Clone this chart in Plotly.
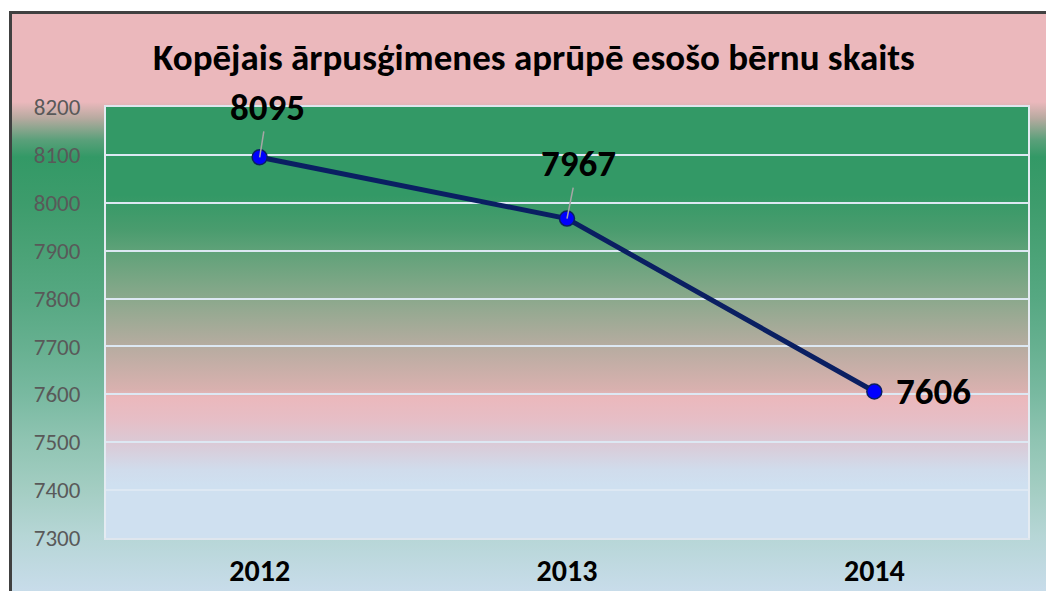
import base64
import plotly.graph_objects as go

# ---- data ----
years = ["2012", "2013", "2014"]
counts = [8095, 7967, 7606]
title_text = "Kopējais ārpusģimenes aprūpē esošo bērnu skaits"
y_min, y_max, y_step = 7300, 8200, 100

# ---- geometry / style ----
W, H = 1046, 591
L, R, T, B = 106, 18, 107, 53
PW, PH = W - L - R, H - T - B
FONT = "Carlito, Calibri, Lato, sans-serif"


def stops(lst):
    return "".join(f'<stop offset="{o}" stop-color="{c}"/>' for o, c in lst)


outer_y0, outer_h = 12, H - 12
outer = [(y, c) for y, c in [
    (12, "#ebb8bc"), (102, "#ebb8bc"), (118, "#b8aaa0"), (140, "#5aa07a"),
    (157, "#339966"), (203, "#3d9c6c"), (250, "#4aa276"), (298, "#56a882"),
    (346, "#66b090"), (393, "#78b9a0"), (440, "#8fc4b2"), (488, "#a3cdc2"),
    (536, "#b6d6d6"), (591, "#c8dcea")]]
outer = [(round((y - outer_y0) / outer_h, 4), c) for y, c in outer]

inner = [(y, c) for y, c in [
    (107, "#339966"), (195, "#339966"), (230, "#4a9c6e"), (252, "#60a279"),
    (296, "#88a88b"), (348, "#b8aca1"), (390, "#d9b1af"), (397, "#ebb8bc"),
    (420, "#e6bec6"), (442, "#dbc9d5"), (470, "#d0dcec"), (485, "#cfe0f0"),
    (538, "#cfe0f0")]]
inner = [(round((y - T) / PH, 4), c) for y, c in inner]

svg = f'''<svg xmlns="http://www.w3.org/2000/svg" width="{W}" height="{H}" viewBox="0 0 {W} {H}" preserveAspectRatio="none">
<defs>
<linearGradient id="o" x1="0" y1="0" x2="0" y2="1">{stops(outer)}</linearGradient>
<linearGradient id="p" x1="0" y1="0" x2="0" y2="1">{stops(inner)}</linearGradient>
</defs>
<rect x="0" y="0" width="{W}" height="{H}" fill="#ffffff"/>
<rect x="10" y="{outer_y0}" width="{W - 10}" height="{outer_h}" fill="url(#o)"/>
<rect x="{L}" y="{T}" width="{PW}" height="{PH}" fill="url(#p)"/>
<path d="M10.5 {H} V12.5 H{W}" stroke="#404040" stroke-width="3" fill="none"/>
</svg>'''
bg_uri = "data:image/svg+xml;base64," + base64.b64encode(svg.encode("utf-8")).decode("ascii")

fig = go.Figure()
fig.add_trace(go.Scatter(
    x=years, y=counts, mode="lines+markers",
    line=dict(color="#0a1f62", width=5),
    marker=dict(size=15, color="#0000ff", line=dict(color="#0a1f62", width=1.5)),
    hoverinfo="skip", showlegend=False,
))

# data labels (x given as category index)
label_offsets = [(8, -50, True), (11, -55, True), (59, 0, False)]
for i, (v, (dx, dy, arrow)) in enumerate(zip(counts, label_offsets)):
    common = dict(x=i, y=v, xref="x", yref="y", text=f"<b>{v}</b>",
                  font=dict(family=FONT, size=37, color="#000000"))
    if arrow:
        fig.add_annotation(**common, showarrow=True, arrowhead=0, arrowwidth=1.5,
                           arrowcolor="#a6a6a6", ax=dx, ay=dy, standoff=0)
    else:
        fig.add_annotation(**common, showarrow=False, xshift=dx, yshift=dy)

fig.update_layout(
    width=W, height=H,
    margin=dict(l=L, r=R, t=T, b=B, pad=0, autoexpand=False),
    paper_bgcolor="#ffffff",
    plot_bgcolor="rgba(0,0,0,0)",
    images=[dict(
        source=bg_uri, xref="paper", yref="paper",
        x=-L / PW, y=(PH + T) / PH, sizex=W / PW, sizey=H / PH,
        xanchor="left", yanchor="top", sizing="stretch", layer="below",
    )],
    title=dict(
        text=f"<b>{title_text}</b>", x=534 / W, xref="container", xanchor="center",
        y=1 - 57 / H, yref="container", yanchor="middle",
        font=dict(family=FONT, size=37, color="#000000"),
    ),
    xaxis=dict(
        type="category", range=[-0.5, len(years) - 0.5], autorange=False,
        showgrid=False, zeroline=False, automargin=False,
        showline=True, linecolor="#dfe6ee", linewidth=2, mirror=True,
        ticks="", ticklabelstandoff=5,
        tickfont=dict(family=FONT, size=30, color="#000000", weight="bold"),
    ),
    yaxis=dict(
        range=[y_min, y_max], autorange=False, dtick=y_step, tick0=y_min,
        showgrid=True, gridcolor="#dde8f3", gridwidth=1.6, automargin=False,
        zeroline=False, showline=True, linecolor="#e4ebf2", linewidth=2, mirror=True,
        ticks="", ticklabelstandoff=19,
        tickfont=dict(family=FONT, size=23, color="#595959"),
    ),
)

fig.write_html(
    "out.html",
    config={"displayModeBar": False},
    post_script="document.body.style.margin='0';document.body.style.overflow='hidden';",
)
